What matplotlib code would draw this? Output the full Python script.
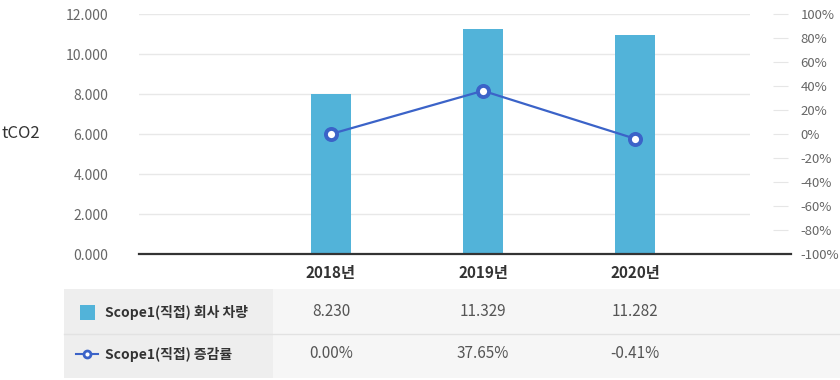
import matplotlib.pyplot as plt
from matplotlib.patches import Rectangle
from matplotlib.lines import Line2D
from matplotlib.transforms import blended_transform_factory

plt.rcParams['font.family'] = ['Noto Sans CJK KR', 'DejaVu Sans']

# data
years = ['2018년', '2019년', '2020년']
bar_values = [8.0, 11.25, 10.95]
rate_values = [0.0, 36.0, -3.9]
table_bar = ['8.230', '11.329', '11.282']
table_rate = ['0.00%', '37.65%', '-0.41%']
series_names = ['Scope1(직접) 회사 차량', 'Scope1(직접) 증감률']
left_ticks = [0, 2, 4, 6, 8, 10, 12]
left_labels = ['0.000', '2.000', '4.000', '6.000', '8.000', '10.000', '12.000']
right_ticks = [-100, -80, -60, -40, -20, 0, 20, 40, 60, 80, 100]
right_labels = ['%d%%' % t for t in right_ticks]

BAR = '#52b3d9'
LINE = '#3b63c8'
W, H = 840, 380

fig = plt.figure(figsize=(8.4, 3.8), dpi=100)
ax = fig.add_axes([139/W, 126/H, 611/W, 240/H])
x = list(range(len(years)))
ax.bar(x, bar_values, width=0.263, color=BAR, zorder=2)
ax.set_xlim(-1.263, 2.757)
ax.set_ylim(0, 12)
ax.set_yticks(left_ticks, left_labels)
ax.grid(axis='y', color='#e8e8e8', lw=1)
ax.set_axisbelow(True)
for s in ax.spines.values():
    s.set_visible(False)
ax.tick_params(axis='y', length=0, pad=22, labelsize=10, labelcolor='#666666')
ax.set_xticks(x, years)
ax.tick_params(axis='x', length=0, pad=8, labelsize=11, labelcolor='#333333')
for lbl in ax.get_xticklabels():
    lbl.set_fontweight('bold')

ax2 = ax.twinx()
ax2.plot(x, rate_values, color=LINE, lw=1.6, marker='o', ms=8,
         mfc='white', mec=LINE, mew=2.8, zorder=3)
ax2.set_ylim(-100, 100)
ax2.set_yticks(right_ticks, right_labels)
for s in ax2.spines.values():
    s.set_visible(False)
ax2.spines['right'].set_position(('outward', 16.6))
ax2.tick_params(axis='y', length=10.8, width=0.8, color='#e6e6e6', pad=9.0,
                labelsize=9.5, labelcolor='#666666')

# dark baseline
fig.add_artist(Line2D([139/W, 791/W], [126/H, 126/H], color='#333333', lw=1.6))

fig.text(2/W, 1 - 134/H, 'tCO2', ha='left', va='center', fontsize=12, color='#333333')

# table below the chart
fig.add_artist(Rectangle((64/W, 2/H), (273-64)/W, 89/H, color='#eeeeee', lw=0))
fig.add_artist(Rectangle((273/W, 2/H), (840-273)/W, 89/H, color='#f6f6f6', lw=0))
fig.add_artist(Line2D([64/W, 1], [46/H, 46/H], color='#e2e2e2', lw=1))

row_y = [1 - 312/H, 1 - 354/H]
fig.add_artist(Rectangle((80/W, 60/H), 15/W, 15/H, color=BAR, lw=0))
fig.add_artist(Line2D([76/W, 98/W], [row_y[1], row_y[1]], color=LINE, lw=1.5))
fig.add_artist(Line2D([87/W], [row_y[1]], marker='o', ms=5, mfc='white', mec=LINE, mew=2))

for name, yy in zip(series_names, row_y):
    fig.text(105/W, yy, name, ha='left', va='center', fontsize=10,
             fontweight='bold', color='#333333')

tr = blended_transform_factory(ax.transData, fig.transFigure)
for i in x:
    fig.text(i, row_y[0], table_bar[i], transform=tr, ha='center', va='center',
             fontsize=11, color='#555555')
    fig.text(i, row_y[1], table_rate[i], transform=tr, ha='center', va='center',
             fontsize=11, color='#555555')

fig.savefig('out.png', dpi=100)
